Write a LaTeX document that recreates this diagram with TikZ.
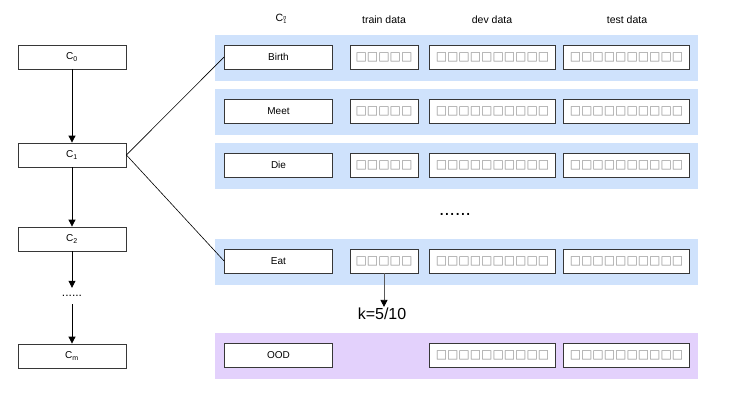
\documentclass[tikz,border=0pt]{standalone}
\usepackage{fontspec}
\setmainfont{Liberation Sans}
\newfontfamily\symfont{DejaVu Sans}
\usetikzlibrary{positioning,arrows.meta}

\definecolor{bandblue}{RGB}{207,226,252}
\definecolor{bandpurple}{RGB}{227,209,252}
\definecolor{boxline}{RGB}{55,55,55}
\definecolor{sqgray}{RGB}{150,150,150}

\newcommand{\fivesq}{{\symfont\fontsize{12}{12}\selectfont\color{sqgray}□□□□□}}
\newcommand{\tensq}{{\symfont\fontsize{12}{12}\selectfont\color{sqgray}□□□□□□□□□□}}

\tikzset{
  lbox/.style={draw=boxline, fill=white, line width=0.8pt, minimum width=108pt,
    minimum height=24pt, inner sep=0pt, font=\fontsize{10}{12}\selectfont},
  dbox/.style={draw=boxline, fill=white, line width=0.8pt, minimum height=24pt, inner sep=0pt},
  band/.style={fill=#1, minimum width=483pt, minimum height=46pt, inner sep=0pt},
  head/.style={font=\fontsize{10.5}{12}\selectfont},
  arr/.style={-{Triangle[width=7pt,length=7pt]}, line width=0.8pt}
}

\begin{document}
\begin{tikzpicture}[x=1pt,y=-1pt]
	\useasboundingbox (0,0) rectangle (739,415);
	% left chain
	\node[lbox] (c0) at (72,57) {C\textsubscript{0}};
	\node[lbox] (c1) at (72,155) {C\textsubscript{1}};
	\node[lbox] (c2) at (72,239) {C\textsubscript{2}};
	\node[inner sep=0pt, minimum height=16pt, font=\fontsize{12}{12}\selectfont] (dotsl) at (72,296) {......};
	\node[lbox] (cm) at (72,356) {C\textsubscript{m}};
	\draw[arr] (c0) -- (c1);
	\draw[arr] (c1) -- (c2);
	\draw[arr] (c2) -- (dotsl);
	\draw[arr] (dotsl) -- (cm);
	% headers
	\node[head] (hc) at (281,20) {C{\fontsize{5.5}{5.5}\selectfont\begin{tabular}[c]{@{}l@{}}n\\[-1pt]1\end{tabular}}};
	\node[head] (htrain) at (384,20) {train data};
	\node[head] (hdev) at (492,20) {dev data};
	\node[head] (htest) at (627,20) {test data};
	% relation rows
	\foreach \y/\nm/\txt in {57/birth/Birth,111/meet/Meet,165/die/Die,261/eat/Eat}{
		\node[band=bandblue] (band\nm) at (456.5,\y+1) {};
		\node[lbox] (\nm) at (278.5,\y) {\txt};
		\node[dbox, minimum width=68pt] (train\nm) at (384,\y) {\fivesq};
		\node[dbox, minimum width=126pt] (dev\nm) at (492.5,\y) {\tensq};
		\node[dbox, minimum width=126pt] (test\nm) at (626.5,\y) {\tensq};
	}
	\node[font=\fontsize{19}{19}\selectfont] (dotsr) at (455,214) {......};
	% ood row
	\node[band=bandpurple] (bandood) at (456.5,356) {};
	\node[lbox] (ood) at (278.5,355) {OOD};
	\node[dbox, minimum width=126pt] (devood) at (492.5,355) {\tensq};
	\node[dbox, minimum width=126pt] (testood) at (626.5,355) {\tensq};
	% links
	\draw[line width=0.6pt] (c1.east) -- (birth.west);
	\draw[line width=0.6pt] (c1.east) -- (eat.west);
	\node[font=\fontsize{16}{16}\selectfont, inner sep=1pt] (kval) at (382,314) {k=5/10};
	\draw[arr, draw=black!65, -{Triangle[width=7pt,length=7pt,color=black]}] (traineat.south) -- (traineat.south |- kval.north);
\end{tikzpicture}
\end{document}
